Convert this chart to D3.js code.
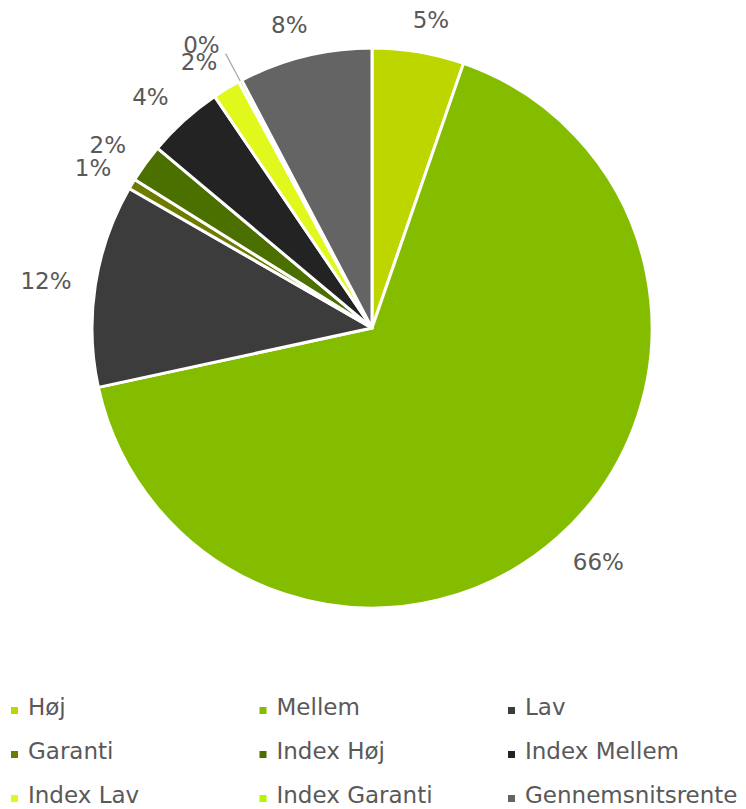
<!DOCTYPE html>
<html>
<head>
<meta charset="utf-8">
<script src="https://cdn.jsdelivr.net/npm/d3@7"></script>
<style>
  body { margin: 0; background: #fff; }
  svg { display: block; font-family: "DejaVu Sans", Verdana, sans-serif; }
</style>
</head>
<body>
<div id="chart"></div>
<script>
// data (percent of total)
var categories = ["Høj", "Mellem", "Lav", "Garanti", "Index Høj", "Index Mellem",
                  "Index Lav", "Index Garanti", "Gennemsnitsrente"];
var values = [5.3, 66.3, 11.7, 0.6, 2.2, 4.4, 1.6, 0.2, 7.7];
var colors = ["#bed600", "#84bd00", "#3c3c3c", "#6e7b00", "#4b7000", "#232323",
              "#e1f81c", "#b6f500", "#646464"];

var svgWidth = 746;
var svgHeight = 809;

var cx = 372, cy = 328, radius = 280;
var labelGap = 24;
var fontSize = 23;
var capHalf = fontSize * 0.729 / 2;

var svg = d3.select("#chart")
    .append("svg")
    .attr("width", svgWidth)
    .attr("height", svgHeight);

var data = categories.map(function(c, i) {
    return { name: c, value: values[i], color: colors[i] };
});
var total = d3.sum(values);
var fmt = d3.format(".0%");

var pie = d3.pie()
    .sort(null)
    .value(d => d.value);

var arc = d3.arc()
    .innerRadius(0)
    .outerRadius(radius);

var arcs = pie(data);

var pieGroup = svg.append("g")
    .attr("transform", `translate(${cx}, ${cy})`);

pieGroup.selectAll("path")
    .data(arcs)
    .enter()
    .append("path")
    .attr("d", arc)
    .attr("fill", d => d.data.color)
    .attr("stroke", "#ffffff")
    .attr("stroke-width", 3)
    .attr("stroke-linejoin", "round");

// labels outside the end of each slice
var labels = pieGroup.selectAll("text.pct")
    .data(arcs)
    .enter()
    .append("text")
    .attr("class", "pct")
    .attr("fill", "#595959")
    .attr("font-size", fontSize)
    .attr("text-anchor", "middle")
    .text(d => fmt(d.data.value / total));

labels.each(function(d) {
    var t = d3.select(this);
    var hw = this.getComputedTextLength() / 2;
    var a = (d.startAngle + d.endAngle) / 2;
    var s = Math.sin(a), c = Math.cos(a);
    var share = d.data.value / total;
    var x, y;
    if (share < 0.005) {
        // tiny slice: leader line out from the edge, label beside it
        var r0 = radius, r1 = radius + labelGap + 7;
        var x1 = s * r1, y1 = -c * r1;
        pieGroup.append("line")
            .attr("x1", s * r0).attr("y1", -c * r0)
            .attr("x2", x1).attr("y2", y1)
            .attr("stroke", "#a6a6a6")
            .attr("stroke-width", 1.2);
        x = x1 + (s < 0 ? -1 : 1) * (hw + 6);
        y = y1 - 9;
    } else {
        var R = radius + labelGap;
        x = s * R + (s < 0 ? -1 : 1) * hw * Math.min(1, 0.3 + Math.abs(s));
        y = -c * R - c * capHalf;
    }
    t.attr("x", x).attr("y", y + capHalf);
});

// legend, three columns
var legend = svg.append("g");
var colStep = 248.5, rowStep = 44;
var item = legend.selectAll("g")
    .data(data)
    .enter()
    .append("g")
    .attr("transform", (d, i) => `translate(${11 + (i % 3) * colStep}, ${715 + Math.floor(i / 3) * rowStep})`);

item.append("rect")
    .attr("x", 0)
    .attr("y", -8)
    .attr("width", 7)
    .attr("height", 7)
    .attr("fill", d => d.color);

item.append("text")
    .attr("x", 17)
    .attr("y", 0)
    .attr("font-size", fontSize)
    .attr("fill", "#595959")
    .text(d => d.name);
</script>
</body>
</html>
